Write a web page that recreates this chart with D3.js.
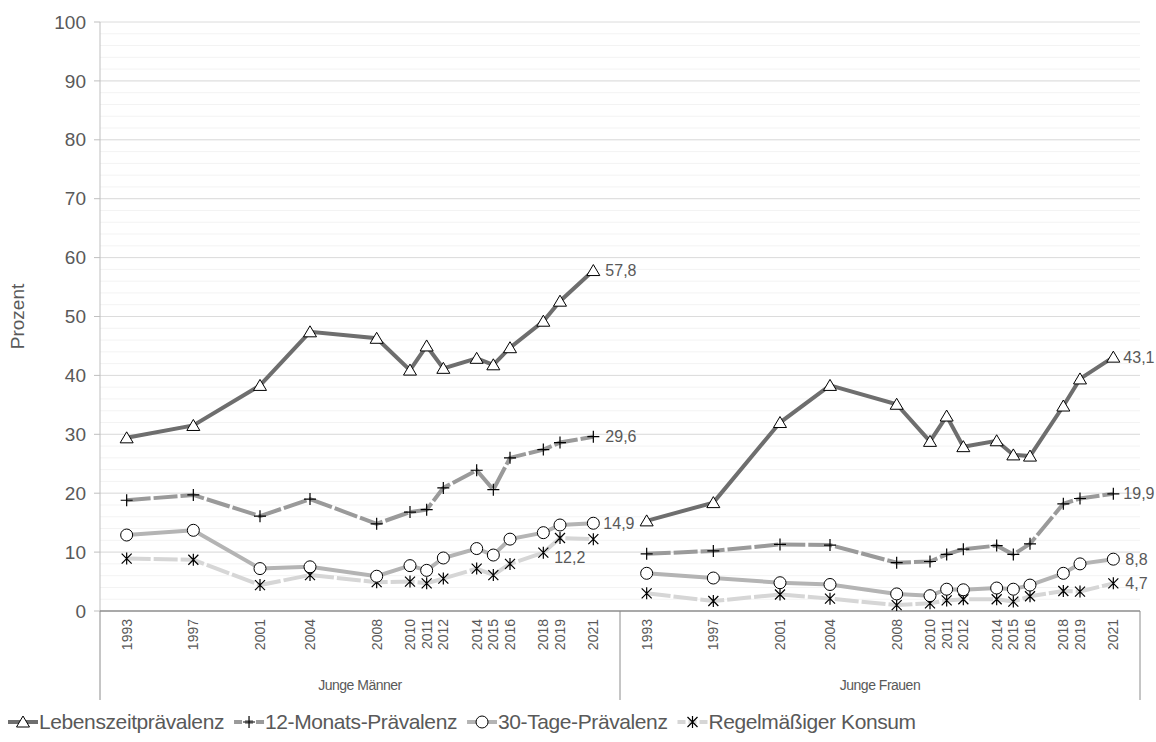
<!DOCTYPE html>
<html><head><meta charset="utf-8">
<script src="https://cdn.jsdelivr.net/npm/d3@7"></script>
<style>body{margin:0;background:#fff}text{font-family:"Liberation Sans",Arial,sans-serif}</style>
</head><body>
<script>
const years = [1993,1997,2001,2004,2008,2010,2011,2012,2014,2015,2016,2018,2019,2021];
const groups = ["Junge Männer","Junge Frauen"];
const seriesNames = ["Lebenszeitprävalenz","12-Monats-Prävalenz","30-Tage-Prävalenz","Regelmäßiger Konsum"];
const menLeben = [29.4,31.5,38.3,47.4,46.3,40.9,45.0,41.2,42.9,41.8,44.7,49.2,52.6,57.8];
const men12M = [18.8,19.7,16.1,19.0,14.8,16.8,17.2,20.9,23.9,20.6,26.0,27.4,28.6,29.6];
const men30T = [12.9,13.7,7.2,7.5,5.9,7.7,6.9,9.0,10.6,9.5,12.2,13.3,14.6,14.9];
const menReg = [8.9,8.7,4.4,6.1,4.9,5.0,4.7,5.5,7.2,6.1,8.0,9.9,12.4,12.2];
const womenLeben = [15.3,18.4,32.0,38.3,35.1,28.8,33.1,27.9,28.9,26.5,26.3,34.8,39.4,43.1];
const women12M = [9.7,10.2,11.3,11.2,8.2,8.4,9.6,10.5,11.1,9.6,11.4,18.2,19.1,19.9];
const women30T = [6.4,5.6,4.8,4.5,2.9,2.6,3.7,3.6,3.9,3.7,4.4,6.4,8.0,8.8];
const womenReg = [3.0,1.7,2.8,2.1,1.0,1.3,1.8,2.0,2.0,1.6,2.5,3.4,3.3,4.7];
const yTicks = [0,10,20,30,40,50,60,70,80,90,100];

const data = [
  [menLeben, men12M, men30T, menReg],
  [womenLeben, women12M, women30T, womenReg]
];
const styles = [
  {color:"#6e6e6e", dash:null, sym:"tri"},
  {color:"#9a9a9a", dash:"24,3", sym:"plus"},
  {color:"#b4b4b4", dash:null, sym:"circ"},
  {color:"#d6d6d6", dash:"24,3", sym:"star"}
];

const W = 1156, H = 742;
const pLeft = 100, pRight = 1140, pTop = 22, pBottom = 611;
const svg = d3.select("body").append("svg").attr("width", W).attr("height", H);
const y = d3.scaleLinear().domain([0,100]).range([pBottom, pTop]);
const mid = (pLeft + pRight) / 2;
const xs = [
  d3.scaleLinear().domain([1991.4, 2022.6]).range([pLeft, mid]),
  d3.scaleLinear().domain([1991.4, 2022.6]).range([mid, pRight])
];

// minor + major gridlines
d3.range(2, 100, 2).forEach(v => {
  svg.append("line").attr("x1", pLeft).attr("x2", pRight).attr("y1", y(v)).attr("y2", y(v))
    .attr("stroke", "#f3f3f3").attr("stroke-width", 1);
});
yTicks.forEach(v => {
  if (v === 0) return;
  svg.append("line").attr("x1", pLeft).attr("x2", pRight).attr("y1", y(v)).attr("y2", y(v))
    .attr("stroke", "#dcdcdc").attr("stroke-width", 1);
});

// y axis
svg.append("line").attr("x1", pLeft).attr("x2", pLeft).attr("y1", pTop).attr("y2", pBottom).attr("stroke", "#bfbfbf");
yTicks.forEach(v => {
  svg.append("line").attr("x1", pLeft - 6).attr("x2", pLeft).attr("y1", y(v)).attr("y2", y(v)).attr("stroke", "#bfbfbf");
  svg.append("text").attr("x", pLeft - 14).attr("y", y(v)).attr("dy", "0.35em").attr("text-anchor", "end")
    .attr("font-size", 19).attr("fill", "#595959").text(v);
});
svg.append("text").attr("transform", `translate(24,${(pTop+pBottom)/2}) rotate(-90)`).attr("text-anchor", "middle")
  .attr("font-size", 19).attr("fill", "#595959").text("Prozent");

// x axis
svg.append("line").attr("x1", pLeft).attr("x2", pRight).attr("y1", pBottom).attr("y2", pBottom).attr("stroke", "#8c8c8c").attr("stroke-width", 1.5);
[pLeft, mid, pRight].forEach(xv => {
  svg.append("line").attr("x1", xv).attr("x2", xv).attr("y1", pBottom).attr("y2", 700).attr("stroke", "#8c8c8c");
});
xs.forEach((x, g) => {
  years.forEach(yr => {
    svg.append("text").attr("transform", `translate(${x(yr) + 5},${pBottom + 8}) rotate(-90)`)
      .attr("text-anchor", "end").attr("font-size", 14).attr("fill", "#595959").text(yr);
  });
  svg.append("text").attr("x", (x.range()[0] + x.range()[1]) / 2).attr("y", 690).attr("text-anchor", "middle")
    .attr("font-size", 14).attr("fill", "#595959").attr("letter-spacing", -0.5).text(groups[g]);
});

function symbol(sel, type, cx, cy) {
  const g = sel.append("g").attr("transform", `translate(${cx},${cy})`);
  if (type === "tri") g.append("path").attr("d", "M0,-6L6.5,5L-6.5,5Z").attr("fill", "#fff").attr("stroke", "#000").attr("stroke-width", 1);
  if (type === "circ") g.append("circle").attr("r", 6).attr("fill", "#fff").attr("stroke", "#000").attr("stroke-width", 1);
  if (type === "plus") g.append("path").attr("d", "M-6,0H6M0,-6V6").attr("stroke", "#000").attr("stroke-width", 1.2);
  if (type === "star") g.append("path").attr("d", "M-5,-5L5,5M-5,5L5,-5M0,-6V6").attr("stroke", "#000").attr("stroke-width", 1.2);
}

const line = d3.line();
data.forEach((grp, g) => {
  const x = xs[g];
  [3,2,1,0].forEach(s => {
    const vals = grp[s], st = styles[s];
    const pts = years.map((yr, i) => [x(yr), y(vals[i])]);
    svg.append("path").attr("d", line(pts)).attr("fill", "none").attr("stroke", st.color)
      .attr("stroke-width", 4).attr("stroke-dasharray", st.dash);
  });
  [3,2,1,0].forEach(s => {
    years.forEach((yr, i) => symbol(svg, styles[s].sym, x(yr), y(grp[s][i])));
  });
});

// end labels
const fmt = v => String(v.toFixed(1)).replace(".", ",");
const xm = xs[0](2021), xw = xs[1](2021);
[[xm+12, menLeben[13], 0],[xm+12, men12M[13], 0],[xm+10, men30T[13], 0],[xm-8, menReg[13], 18, "end"],
 [xw+10, womenLeben[13], 0],[xw+10, women12M[13], 0],[xw+12, women30T[13], 0],[xw+12, womenReg[13], 0]]
.forEach(([lx, v, dy, anchor]) => {
  svg.append("text").attr("x", lx).attr("y", y(v) + dy).attr("dy", "0.35em").attr("text-anchor", anchor || "start")
    .attr("font-size", 16).attr("fill", "#595959").text(fmt(v));
});

// legend
const lg = svg.append("g").attr("transform", "translate(0,722)");
let lx = 8;
seriesNames.forEach((n, s) => {
  lg.append("line").attr("x1", lx).attr("x2", lx + 30).attr("y1", 0).attr("y2", 0)
    .attr("stroke", styles[s].color).attr("stroke-width", 4).attr("stroke-dasharray", s % 2 ? "8,3" : null);
  symbol(lg, styles[s].sym, lx + 15, 0);
  const t = lg.append("text").attr("x", lx + 31).attr("y", 0).attr("dy", "0.35em").attr("font-size", 21)
    .attr("fill", "#595959").attr("letter-spacing", -0.4).text(n);
  lx += 31 + t.node().getComputedTextLength() + 10;
});
</script>
</body></html>
